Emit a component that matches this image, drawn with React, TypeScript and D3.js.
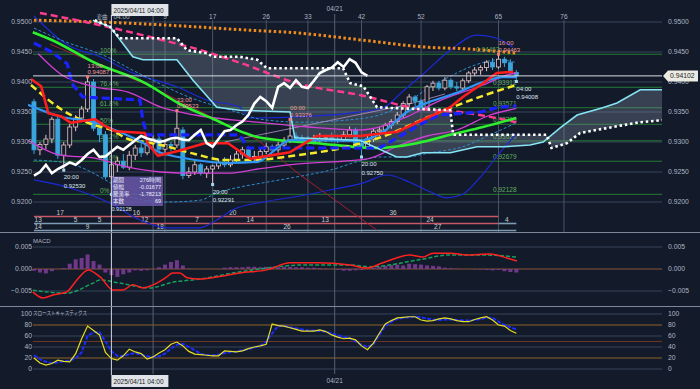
import React from "react";
import * as d3 from "d3";

type P = [number, number];

// ---------- candles (4h bars, index 0 = 2025/04/11 04:00) ----------
const FIRST_BAR = -13;
const OPEN = [
  0.9367, 0.9287, 0.9296, 0.9305, 0.9338, 0.9278, 0.9295, 0.9325, 0.9340, 0.9355, 0.9400, 0.9323, 0.9312,
  0.9242, 0.9262, 0.9268, 0.9258, 0.9278, 0.9290, 0.9282, 0.9298, 0.9305, 0.9288,
  0.9296, 0.9295, 0.9320, 0.9244, 0.9250, 0.9262, 0.9248, 0.9255, 0.9260, 0.9266,
  0.9262, 0.9270, 0.9280, 0.9287, 0.9275, 0.9276, 0.9284, 0.9292, 0.9287, 0.9295,
  0.9303, 0.9310, 0.9306, 0.9303, 0.9300, 0.9302, 0.9306, 0.9307, 0.9304, 0.9303,
  0.9312, 0.9320, 0.9298, 0.9292, 0.9305, 0.9318, 0.9320, 0.9328, 0.9334, 0.9345,
  0.9364, 0.9375, 0.9368, 0.9357, 0.9392, 0.9398, 0.9390, 0.9403, 0.9392, 0.9390,
  0.9402, 0.9415, 0.9420, 0.9424, 0.9433, 0.9425, 0.9438, 0.9432, 0.9416,
];
const HIGH = [
  0.9372, 0.9300, 0.9312, 0.9342, 0.9345, 0.9300, 0.9330, 0.9345, 0.9360, 0.94087, 0.9405, 0.9335, 0.9318,
  0.9270, 0.9275, 0.9280, 0.9285, 0.9295, 0.9300, 0.9305, 0.9312, 0.9310, 0.9302,
  0.9300, 0.93523, 0.9325, 0.9258, 0.9268, 0.9265, 0.9260, 0.9262, 0.9272, 0.9275,
  0.9278, 0.9285, 0.9292, 0.9290, 0.9285, 0.9290, 0.9298, 0.9296, 0.9300, 0.9308,
  0.93376, 0.9316, 0.9312, 0.9310, 0.9312, 0.9315, 0.9312, 0.9316, 0.9312, 0.9318,
  0.9326, 0.9324, 0.9305, 0.9310, 0.9322, 0.9325, 0.9332, 0.9338, 0.9350, 0.9368,
  0.9380, 0.9378, 0.9372, 0.9395, 0.9402, 0.9402, 0.9408, 0.9406, 0.9400, 0.9406,
  0.9418, 0.9425, 0.9428, 0.9436, 0.9440, 0.94463, 0.9442, 0.9438, 0.9420,
];
const LOW = [
  0.9280, 0.9278, 0.9288, 0.9298, 0.9272, 0.92530, 0.9290, 0.9318, 0.9335, 0.9350, 0.9318, 0.9300, 0.9238,
  0.92128, 0.9250, 0.9255, 0.9253, 0.9270, 0.9275, 0.9278, 0.9290, 0.9280, 0.9278,
  0.9285, 0.9290, 0.9238, 0.9240, 0.9245, 0.9244, 0.9240, 0.92291, 0.9255, 0.9258,
  0.9258, 0.9265, 0.9272, 0.9270, 0.9268, 0.9272, 0.9280, 0.9282, 0.9282, 0.9290,
  0.9298, 0.9300, 0.9298, 0.9296, 0.9296, 0.9298, 0.9300, 0.9300, 0.9298, 0.9300,
  0.9308, 0.9294, 0.92750, 0.9288, 0.9300, 0.9310, 0.9315, 0.9322, 0.9330, 0.9340,
  0.9358, 0.9360, 0.9352, 0.9355, 0.9385, 0.9386, 0.9386, 0.9388, 0.9385, 0.9386,
  0.9398, 0.9410, 0.9412, 0.9418, 0.9420, 0.9422, 0.9425, 0.9412, 0.94008,
];
const CLOSE = [
  0.9287, 0.9296, 0.9305, 0.9338, 0.9278, 0.9295, 0.9325, 0.9340, 0.9355, 0.9400, 0.9323, 0.9312, 0.9242,
  0.9262, 0.9268, 0.9258, 0.9278, 0.9290, 0.9282, 0.9298, 0.9305, 0.9288, 0.9296,
  0.9295, 0.9323, 0.9244, 0.9250, 0.9262, 0.9248, 0.9255, 0.9260, 0.9266, 0.9262,
  0.9270, 0.9280, 0.9287, 0.9275, 0.9276, 0.9284, 0.9292, 0.9287, 0.9295, 0.9303,
  0.9310, 0.9306, 0.9303, 0.9300, 0.9302, 0.9306, 0.9307, 0.9304, 0.9303, 0.9312,
  0.9320, 0.9298, 0.9292, 0.9305, 0.9318, 0.9320, 0.9328, 0.9334, 0.9345, 0.9364,
  0.9375, 0.9368, 0.9357, 0.9392, 0.9398, 0.9390, 0.9403, 0.9392, 0.9390, 0.9402,
  0.9415, 0.9420, 0.9424, 0.9433, 0.9425, 0.9438, 0.9432, 0.9416, 0.94102,
];
const CHIKOU_SHIFT = 25;
const LAST_PRICE = 0.94102;

// ---------- axes ----------
const PRICE_TICKS = [0.92, 0.925, 0.93, 0.935, 0.94, 0.945, 0.95];
const MACD_TICKS = [-0.005, 0, 0.005];
const STOCH_TICKS = [0, 20, 40, 60, 80, 100];
const STOCH_WARM = [20, 80];
const COUNT_MARKS = [9, 17, 26, 33, 42, 52, 65, 76];
const WEEK_SEPS = [7, 37.5];
const WEEK_LABELS = ["", "04/21"];
const CROSS_BAR = 0;
const CROSS_LABEL = "2025/04/11 04:00";

// ---------- fibonacci ----------
const FIB_PCT = ["100%", "76.4%", "61.8%", "50%", "38.2%", "23.6%", "0%"];
const FIB_VAL = [0.94463, 0.93912, 0.93571, 0.932955, 0.9302, 0.92679, 0.92128];

// ---------- overlay lines: [bar, price] ----------
const MA_ORANGE: P[] = [[-13, 0.9503], [-2, 0.95], [9, 0.9495], [22, 0.9487], [31, 0.9482], [42, 0.947], [53, 0.9458], [60, 0.9455], [68, 0.9448]];
const MA_PINK: P[] = [[-12, 0.9515], [-2, 0.9495], [6.5, 0.9475], [15, 0.9453], [21.6, 0.9432], [31.5, 0.9397], [42.3, 0.9377], [50.6, 0.9357], [60, 0.9348], [68, 0.9333]];
const MA_GREEN: P[] = [[-13.2, 0.9483], [-10, 0.947], [-2.8, 0.9432], [5.7, 0.9398], [11.2, 0.9365], [17.4, 0.9337], [22.4, 0.9315], [24.6, 0.9308], [34.5, 0.9298], [44.6, 0.929], [51.3, 0.9298], [56.9, 0.9312], [62.4, 0.9325], [68, 0.934]];
const MA_YELLOW: P[] = [[-13.5, 0.9395], [-8.5, 0.9355], [-2.8, 0.9328], [0, 0.932], [2.8, 0.9305], [5.7, 0.93], [8.3, 0.9295], [14, 0.928], [19, 0.927], [23.3, 0.927], [30.5, 0.9277], [40, 0.9293], [45, 0.9307], [53.5, 0.9343], [62.4, 0.9377], [68, 0.9395]];
const TENKAN_RED: P[] = [[-13.5, 0.9405], [-11.8, 0.9393], [-10.6, 0.9348], [-8.5, 0.9343], [-6.8, 0.9332], [-2.8, 0.9338], [-1.1, 0.9327], [0.6, 0.9318], [5.6, 0.9315], [6.1, 0.9298], [7.8, 0.9277], [11.2, 0.9285], [15.7, 0.9298], [19.6, 0.9298], [23.3, 0.9272], [30, 0.9283], [34.5, 0.931], [41.7, 0.931], [48, 0.9317], [52.3, 0.9337], [56.9, 0.9358], [59, 0.9375], [62.4, 0.9398], [64.7, 0.9415], [67.5, 0.9417]];
const MA_SKY: P[] = [[-14, 0.9362], [-8.5, 0.9342], [-2.8, 0.9333], [0.6, 0.932], [4.5, 0.9303], [8.3, 0.9282], [11.2, 0.9275], [14, 0.927], [19.6, 0.9265], [24.6, 0.9267], [27.5, 0.9287], [30, 0.9303], [41.7, 0.9302], [45.6, 0.9317], [49.6, 0.935], [53.5, 0.9367], [58, 0.9382], [62.4, 0.94], [65.7, 0.9408], [68, 0.9408]];
const KIJUN_BLUE: P[] = [[-13, 0.9465], [-10, 0.945], [-7.4, 0.943], [-6.6, 0.9397], [-4.8, 0.9375], [4.8, 0.937], [5.3, 0.9335], [6, 0.9312], [21.5, 0.9312], [23, 0.929], [45, 0.929], [48.5, 0.931], [52, 0.933], [55, 0.9345], [62, 0.935], [65, 0.9358], [68, 0.936]];
const BB1_UP: P[] = [[-12.3, 0.9447], [-8.5, 0.9413], [-2.8, 0.9392], [2.8, 0.9383], [8.3, 0.9358], [14, 0.9345], [24.6, 0.9333], [33, 0.9325], [41.7, 0.932], [49.6, 0.9342], [54.7, 0.9367], [62.4, 0.9395], [66.9, 0.9413], [68, 0.9415]];
const BB1_DN: P[] = [[-14, 0.9303], [-8.5, 0.9278], [-2.8, 0.9273], [2.8, 0.9258], [8.3, 0.925], [14, 0.9248], [19.6, 0.9248], [24.6, 0.9255], [31, 0.9263], [43, 0.9272], [48.5, 0.9295], [53, 0.931], [58, 0.932], [63.6, 0.9345], [68, 0.9356]];
const BB2_UP: P[] = [[-13, 0.949], [-8.5, 0.947], [-1, 0.9443], [4.5, 0.9415], [13, 0.9375], [21, 0.935], [25, 0.9338], [32, 0.9333], [40, 0.9337], [45, 0.9345], [49, 0.9362], [53, 0.9388], [57, 0.941], [61, 0.9428], [65, 0.9437], [68, 0.9432]];
const BB2_DN: P[] = [[-13, 0.927], [-7.5, 0.9265], [-0.2, 0.9232], [3.6, 0.9207], [9.3, 0.92], [14.9, 0.9203], [17.7, 0.9215], [21.6, 0.9225], [25.5, 0.9232], [31.2, 0.9242], [36.7, 0.9253], [42.3, 0.927], [45.1, 0.9275], [49.6, 0.9275], [53.5, 0.9282], [59, 0.9292], [63.6, 0.9312], [68, 0.9332]];
const BB3_UP: P[] = [[-13, 0.951], [-7.4, 0.9462], [-1.9, 0.9442], [3.6, 0.9415], [11, 0.9392], [16, 0.937], [21.6, 0.9358], [23.3, 0.934], [31.7, 0.9342], [40, 0.9348], [45.6, 0.9357], [49, 0.9385], [52.3, 0.9413], [56.9, 0.9453], [61.4, 0.9478], [64.7, 0.9473], [67.4, 0.9458]];
const BB3_DN: P[] = [[-13, 0.9237], [-7.5, 0.9225], [-0.2, 0.9198], [4.8, 0.917], [9.3, 0.9157], [14.9, 0.9157], [17.7, 0.917], [20.4, 0.9187], [25.5, 0.92], [31.7, 0.921], [36.7, 0.922], [42.3, 0.9232], [46.3, 0.9245], [50.1, 0.9233], [53.5, 0.9217], [56.4, 0.9207], [59, 0.9213], [62, 0.9242], [65.3, 0.9283], [68, 0.9313]];
const TREND_RED: P[] = [[-10.3, 0.9463], [6.5, 0.9393], [24.6, 0.9303], [31.7, 0.9245], [44.6, 0.9153]];
const TREND_LAV: P[] = [[19, 0.93], [49.6, 0.9362], [56, 0.938]];
const SPAN_A: P[] = [[-3.1, 0.9503], [-0.2, 0.9492], [3.6, 0.9442], [5.3, 0.9437], [11, 0.9437], [13.7, 0.9403], [17.7, 0.9358], [21.6, 0.9353], [30, 0.935], [30.8, 0.9307], [41.7, 0.9303], [47.9, 0.9275], [49.6, 0.9275], [52.3, 0.9282], [56.9, 0.9282], [61.4, 0.9292], [65.8, 0.9292], [70.3, 0.9295], [72.5, 0.93], [75.3, 0.9323], [78.2, 0.9345], [82.5, 0.9357], [84.9, 0.9365], [88.8, 0.9387], [93, 0.9387]];
const SPAN_B: P[] = [[-2.8, 0.9503], [-0.2, 0.9492], [1.4, 0.9473], [11, 0.9473], [12.7, 0.9453], [16, 0.9448], [17.1, 0.9442], [21.6, 0.9442], [24.5, 0.9437], [26.1, 0.9423], [38.9, 0.9423], [40.1, 0.9398], [42.3, 0.9393], [44.6, 0.9358], [46.3, 0.9357], [56.9, 0.9353], [57.4, 0.9312], [73.1, 0.9312], [73.9, 0.929], [76.5, 0.9298], [78.7, 0.9315], [84.2, 0.9325], [88.8, 0.9333], [93.3, 0.9337]];

// ---------- high / low markers ----------
const MARK_BARS = [-8, -4, 0, 11, 17, 30, 42, 65, 68];
const MARK_TIMES = ["20:00", "13:00", "", "23:00", "20:00", "00:00", "20:00", "16:00", "04:00"];
const MARK_KIND = ["L", "H", "L", "H", "L", "H", "L", "H", "L"];

// ---------- measurement box ----------
const INFO_LABELS = ["期間", "値幅", "騰落率", "本数"];
const INFO_VALUES = ["276時間", "-0.01677", "-1.78213", "69"];

// ---------- count rows ----------
const ROW1: [string, number][] = [["17", -8.6], ["16", 4.2], ["20", 20.4], ["36", 47.3]];
const ROW2: [string, number][] = [["13", -12.3], ["5", -6], ["5", -2], ["12", 5.6], ["7", 14.4], ["14", 23.3], ["13", 35.9], ["24", 53.5], ["4", 66.4]];
const ROW3: [string, number][] = [["14", -12.3], ["9", -4], ["18", 8.2], ["26", 29.5], ["27", 54.8]];

// ---------- MACD ----------
const MACD_LINE: P[] = [[-13.2, -0.0052], [-11.5, -0.0066], [-9.8, -0.0059], [-7.5, -0.0052], [-5.8, -0.0025], [-3.9, -0.0002], [-1.9, -0.0018], [0.3, -0.0048], [1.9, -0.0048], [3.6, -0.0036], [5.3, -0.0043], [7, -0.0036], [9.3, -0.0018], [10.3, -0.0009], [11.5, -0.0009], [12.7, -0.002], [14.9, -0.0023], [17.7, -0.0018], [21.6, -0.0009], [26.1, -0.0002], [30, 0.0014], [34.5, 0.0014], [40.1, 0.0009], [42.9, 0.0002], [45.6, 0.0014], [50.1, 0.0032], [52.3, 0.0027], [54, 0.0036], [56.9, 0.0036], [59.7, 0.0032], [63.6, 0.0034], [66.4, 0.0025], [68.1, 0.0018]];
const MACD_SIGNAL: P[] = [[-13.2, -0.0048], [-7.5, -0.0055], [-3.1, -0.0032], [-1.9, -0.0025], [1.4, -0.0032], [6.5, -0.0043], [10.3, -0.003], [14.9, -0.0023], [20.4, -0.0009], [26.1, 0.0002], [31.7, 0.0009], [40.1, 0.0009], [43.4, 0.0005], [51.3, 0.002], [56.9, 0.0032], [62.4, 0.0032], [68.1, 0.0027]];
const MACD_HIST = [
  -4, -8, -10, -5, 0, 2, 12, 22, 25, 33, 18, 10, -8,
  -14, -18, -12, -8, -3, -4, -3, 0, 4, 10,
  16, 20, 8, 1, 0, 0, 0, 0, 0, 3,
  4, 4, 4, 5, 5, 4, 5, 5, 4, 5,
  5, 4, 4, 3, 3, 2, 1, 0, -2, -4,
  -4, -3, -2, 0, 3, 5, 7, 9, 10, 8,
  12, 11, 10, 8, 7, 6, 3, 2, 1, 0,
  0, -1, -1, -2, -3, -2, -5, -7, -8,
];

// ---------- slow stochastics ----------
const STOCH_K = [
  20, 11, 7, 10, 16, 14, 13, 28, 55, 78,
  70, 62, 30, 19, 16, 24, 36, 31, 28, 18,
  22, 29, 35, 45, 49, 42, 32, 27, 26, 25,
  24, 24, 33, 32, 31, 33, 37, 40, 42, 45,
  82, 79, 78, 75, 72, 69, 69, 69, 71, 68,
  62, 58, 55, 56, 53, 42, 35, 47, 65, 82,
  88, 93, 94, 95, 95, 89, 87, 88, 91, 93,
  91, 88, 86, 86, 90, 93, 95, 89, 80, 78,
  70, 65,
];
const STOCH_D = [
  25, 18, 13, 11, 12, 14, 15, 20, 30, 60,
  67, 67, 50, 32, 24, 23, 27, 29, 26, 23,
  22, 23, 28, 37, 44, 46, 40, 34, 28, 25,
  25, 26, 29, 31, 32, 34, 36, 39, 42, 50,
  65, 78, 78, 76, 74, 72, 70, 70, 69, 68,
  65, 61, 58, 56, 50, 44, 40, 45, 62, 78,
  86, 91, 93, 94, 95, 94, 92, 90, 89, 90,
  90, 89, 88, 88, 89, 91, 93, 93, 86, 80,
  76, 72,
];

const BG = "#131a2a";
const AXIS_TXT = "#aeb6c2";
const GRID = "#38445a";
const FONT = "'Liberation Sans', Arial, sans-serif";
const CJK = "'Noto Sans CJK JP', 'Noto Sans', sans-serif";

export default function App() {
  const x = d3.scaleLinear().domain([0, 76]).range([111.4, 111.4 + 76 * 5.955]);
  const yP = d3.scaleLinear().domain([0.92, 0.95]).range([202, 22]);
  const yM = d3.scaleLinear().domain([-0.005, 0.005]).range([291, 247]);
  const yS = d3.scaleLinear().domain([0, 100]).range([369, 314]);

  const smooth = (pts: P[]) =>
    d3.line<P>().x((d) => x(d[0])).y((d) => yP(d[1])).curve(d3.curveMonotoneX)(pts) || "";
  const straight = (pts: P[]) =>
    d3.line<P>().x((d) => x(d[0])).y((d) => yP(d[1]))(pts) || "";

  const bars = OPEN.map((o, k) => ({ i: FIRST_BAR + k, o, h: HIGH[k], l: LOW[k], c: CLOSE[k] }));
  const chikou: P[] = bars.filter((b) => b.i - CHIKOU_SHIFT >= FIRST_BAR).map((b) => [b.i - CHIKOU_SHIFT, b.c]);

  const cloudPts = [...SPAN_A, ...SPAN_B.slice().reverse()].map((d) => `${x(d[0])},${yP(d[1])}`);
  const cloudPath = "M" + cloudPts.join("L") + "Z";

  const macdPath = (pts: P[]) =>
    d3.line<P>().x((d) => x(d[0])).y((d) => yM(d[1])).curve(d3.curveMonotoneX)(pts) || "";
  const stochPath = (vals: number[]) =>
    d3.line<number>().x((_, k) => x(FIRST_BAR + k)).y((v) => yS(v))(vals) || "";

  const xL = 33, xR = 662;
  const fmtP = d3.format(".4f");
  const fmt5 = d3.format(".5f");
  const fmtM = (v: number) => (v === 0 ? "0.000" : d3.format(".3f")(v));

  const overlay = (pts: P[], color: string, w: number, dash?: string, curve = true, op = 1) => (
    <path d={curve ? smooth(pts) : straight(pts)} fill="none" stroke={color} strokeWidth={w}
      strokeDasharray={dash} strokeOpacity={op} strokeLinejoin="round" />
  );

  const countRow = (row: [string, number][], y: number, color: string, from: number, to: number) => (
    <g>
      <line x1={x(from)} x2={x(to)} y1={y} y2={y} stroke={color} strokeWidth={1.6} />
      {row.map(([t, i], k) => (
        <text key={k} x={x(i)} y={y - 1.5} fontSize={6.5} fill="#c8ccd2" textAnchor="middle" fontFamily={FONT}>{t}</text>
      ))}
    </g>
  );

  return (
    <div style={{ position: "fixed", left: 0, top: 0, width: 700, height: 389 }}>
      <svg width={700} height={389} style={{ display: "block", background: BG }}>
        <defs>
          <clipPath id="mainClip"><rect x={28} y={0} width={634} height={232} /></clipPath>
          <clipPath id="subClip"><rect x={28} y={233} width={634} height={150} /></clipPath>
        </defs>
        <rect width={700} height={389} fill={BG} />

        {/* horizontal grids */}
        {PRICE_TICKS.map((t) => (
          <line key={t} x1={xL} x2={xR} y1={yP(t)} y2={yP(t)} stroke={GRID} strokeWidth={1} />
        ))}
        {MACD_TICKS.map((t) => (
          <line key={t} x1={xL} x2={xR} y1={yM(t)} y2={yM(t)} stroke={t === 0 ? "#8a5238" : GRID} strokeWidth={1} />
        ))}
        {STOCH_TICKS.map((t) => (
          <line key={t} x1={xL} x2={xR} y1={yS(t)} y2={yS(t)}
            stroke={STOCH_WARM.includes(t) ? "#8c6428" : GRID} strokeWidth={1} />
        ))}
        <line x1={xL} x2={xR} y1={yS(50)} y2={yS(50)} stroke="#6e3424" strokeWidth={1} />

        {/* vertical grids */}
        {COUNT_MARKS.map((m) => (
          <g key={m}>
            <line x1={x(m)} x2={x(m)} y1={20} y2={232} stroke="#4a5568" strokeWidth={1} />
            <text x={x(m)} y={19} fontSize={6.5} fill={AXIS_TXT} textAnchor="middle" fontFamily={FONT}>{m}</text>
          </g>
        ))}
        {WEEK_SEPS.map((m, k) => (
          <g key={m}>
            <line x1={x(m)} x2={x(m)} y1={14} y2={374} stroke="#566173" strokeWidth={1} />
            {WEEK_LABELS[k] && (
              <>
                <text x={x(m)} y={11} fontSize={6.5} fill={AXIS_TXT} textAnchor="middle" fontFamily={FONT}>{WEEK_LABELS[k]}</text>
                <text x={x(m)} y={383} fontSize={6.5} fill={AXIS_TXT} textAnchor="middle" fontFamily={FONT}>{WEEK_LABELS[k]}</text>
              </>
            )}
          </g>
        ))}
        <text x={x(CROSS_BAR) + 2} y={19} fontSize={6.5} fill={AXIS_TXT} fontFamily={FONT}>04:00</text>
        <text x={x(CROSS_BAR) - 15} y={19} fontSize={5.5} fill={AXIS_TXT} fontFamily={CJK}>変曲</text>

        <g clipPath="url(#mainClip)">
          {/* fibonacci */}
          {FIB_VAL.map((v, k) => (
            <g key={k}>
              <line x1={xL} x2={xR} y1={yP(v)} y2={yP(v)} stroke="#267a34" strokeWidth={1} />
              <text x={100} y={yP(v) - 1.5} fontSize={6.5} fill="#5fae5f" fontFamily={FONT}>{FIB_PCT[k]}</text>
              <text x={k === 0 ? 476 : 493} y={yP(v) - 2} fontSize={6.5} fill="#5fae5f" fontFamily={FONT}>{fmt5(v)}</text>
            </g>
          ))}

          {/* ichimoku cloud */}
          <path d={cloudPath} fill="#8a9aae" fillOpacity={0.3} />

          {/* count rows */}
          {countRow(ROW1, 216.5, "#c45a68", -13, 65)}
          {countRow(ROW2, 223.5, "#c45a68", 0, 65)}
          <line x1={x(-13)} x2={x(0)} y1={223.5} y2={223.5} stroke="#7d9cb4" strokeWidth={1.6} />
          <line x1={x(65)} x2={x(68)} y1={223.5} y2={223.5} stroke="#7d9cb4" strokeWidth={1.6} />
          {countRow(ROW3, 230.5, "#7d9cb4", -13, 68)}

          {/* bands & trend lines */}
          {overlay(BB3_UP, "#1c2ad6", 1.2)}
          {overlay(BB3_DN, "#1c2ad6", 1.2)}
          {overlay(BB2_UP, "#2d8fd0", 1, "3,2")}
          {overlay(BB2_DN, "#2d8fd0", 1, "3,2")}
          {overlay(TREND_RED, "#a0202e", 1, undefined, false)}
          {overlay(TREND_LAV, "#b792c8", 1, undefined, false, 0.8)}

          {/* candles */}
          {bars.map((b) => {
            const up = b.c >= b.o;
            const col = up ? "#e6c3c6" : "#3aa6dc";
            const top = yP(Math.max(b.o, b.c));
            const hgt = Math.max(1, Math.abs(yP(b.o) - yP(b.c)));
            return (
              <g key={b.i}>
                <line x1={x(b.i)} x2={x(b.i)} y1={yP(b.h)} y2={yP(b.l)} stroke={col} strokeWidth={1} />
                <rect x={x(b.i) - 2} y={top} width={4} height={hgt} fill={up ? BG : col} stroke={col} strokeWidth={0.8} />
              </g>
            );
          })}

          {overlay(BB1_UP, "#d23ed2", 1.3)}
          {overlay(BB1_DN, "#d23ed2", 1.3)}

          {/* moving averages */}
          {overlay(MA_ORANGE, "#f08c1e", 3, "2.5,2.5")}
          {overlay(MA_PINK, "#ff3c8c", 2.5, "7,4")}
          {overlay(MA_GREEN, "#2ef02e", 2.6)}
          {overlay(MA_YELLOW, "#f4ea2a", 2.5, "7,4")}
          {overlay(KIJUN_BLUE, "#1a22ff", 3.2, "8,4", false)}
          {overlay(MA_SKY, "#3096f6", 2.2)}
          {overlay(TENKAN_RED, "#ff1e1e", 2.6, undefined, false)}

          {/* ichimoku spans */}
          <path d={straight(SPAN_A)} fill="none" stroke="#86e4f4" strokeWidth={1.6} />
          <path d={straight(SPAN_B)} fill="none" stroke="#ffffff" strokeWidth={2.6} strokeDasharray="2.5,2.8" />

          {/* chikou */}
          <path d={straight(chikou)} fill="none" stroke="#ffffff" strokeWidth={2.6} strokeLinejoin="miter" />

          {/* last price line */}
          <line x1={xL} x2={xR} y1={yP(LAST_PRICE)} y2={yP(LAST_PRICE)} stroke="#d8dde4" strokeWidth={1} />

          {/* high / low markers */}
          {MARK_BARS.map((bi, k) => {
            const b = bars[bi - FIRST_BAR];
            const hi = MARK_KIND[k] === "H";
            const v = hi ? b.h : b.l;
            const yy = yP(v);
            const col = hi ? "#f09a9a" : "#dfe6ee";
            const solo = !MARK_TIMES[k];
            return (
              <g key={k}>
                <rect x={x(bi) - 1.5} y={yy - 1.5} width={3} height={3} fill={hi ? "#f07a7a" : "#a8d8f0"} />
                {!solo && (
                  <text x={x(bi)} y={hi ? yy - 9 : yy + 9} fontSize={6} fill={col} fontFamily={FONT}>{MARK_TIMES[k]}</text>
                )}
                <text x={x(bi)} y={hi ? yy - 2.5 : yy + (solo ? 16.8 : 17.5)} fontSize={solo ? 5.6 : 6} fill={col} fontFamily={FONT}>{fmt5(v)}</text>
              </g>
            );
          })}

          {/* measurement box */}
          <rect x={111} y={176.5} width={52} height={29.5} fill="#6a58aa" fillOpacity={0.85} />
          {INFO_LABELS.map((t, k) => (
            <g key={k}>
              <text x={113} y={182.3 + k * 7} fontSize={5.5} fill="#eeeeff" fontFamily={CJK}>{t}</text>
              <text x={161} y={182.3 + k * 7} fontSize={5.5} fill="#eeeeff" textAnchor="end" fontFamily={FONT}>{INFO_VALUES[k]}</text>
            </g>
          ))}
        </g>

        {/* MACD panel */}
        <g clipPath="url(#subClip)">
          {MACD_HIST.map((h, k) => {
            const v = h / 10000;
            return (
              <rect key={k} x={x(FIRST_BAR + k) - 2} y={Math.min(yM(v), yM(0))} width={4}
                height={Math.abs(yM(v) - yM(0))} fill="#7a3c92" fillOpacity={0.9} />
            );
          })}
          <path d={macdPath(MACD_SIGNAL)} fill="none" stroke="#17a05e" strokeWidth={1.5} strokeDasharray="4,2" />
          <path d={macdPath(MACD_LINE)} fill="none" stroke="#ff2020" strokeWidth={1.5} />

          {/* stochastics */}
          <path d={stochPath(STOCH_D)} fill="none" stroke="#1a2cff" strokeWidth={2} strokeDasharray="4,1.5" />
          <path d={stochPath(STOCH_K)} fill="none" stroke="#e6de22" strokeWidth={1.2} />
        </g>

        {/* crosshair */}
        <line x1={x(CROSS_BAR)} x2={x(CROSS_BAR)} y1={15} y2={375} stroke="#cfd6de" strokeWidth={1} />
        <rect x={x(CROSS_BAR)} y={4} width={57} height={12} fill="#e0e4e8" />
        <text x={x(CROSS_BAR) + 2} y={12.8} fontSize={6.5} fill="#222" fontFamily={FONT}>{CROSS_LABEL}</text>
        <rect x={x(CROSS_BAR)} y={375} width={57} height={12} fill="#e0e4e8" />
        <text x={x(CROSS_BAR) + 2} y={383.8} fontSize={6.5} fill="#222" fontFamily={FONT}>{CROSS_LABEL}</text>

        {/* panel separators */}
        <line x1={0} x2={700} y1={232.5} y2={232.5} stroke="#7c879a" strokeWidth={1} />
        <line x1={0} x2={700} y1={306.5} y2={306.5} stroke="#7c879a" strokeWidth={1} />

        {/* axis labels */}
        {PRICE_TICKS.map((t) => (
          <g key={t}>
            <text x={32} y={yP(t) + 2.3} fontSize={6.8} fill={AXIS_TXT} textAnchor="end" fontFamily={FONT}>{fmtP(t)}</text>
            <text x={668} y={yP(t) + 2.3} fontSize={6.8} fill={AXIS_TXT} fontFamily={FONT}>{fmtP(t)}</text>
          </g>
        ))}
        {MACD_TICKS.map((t) => (
          <g key={t}>
            <text x={32} y={yM(t) + 2.3} fontSize={6.8} fill={AXIS_TXT} textAnchor="end" fontFamily={FONT}>{fmtM(t)}</text>
            <text x={668} y={yM(t) + 2.3} fontSize={6.8} fill={AXIS_TXT} fontFamily={FONT}>{fmtM(t)}</text>
          </g>
        ))}
        {STOCH_TICKS.map((t) => (
          <g key={t}>
            <text x={32} y={yS(t) + 2.3} fontSize={6.8} fill={AXIS_TXT} textAnchor="end" fontFamily={FONT}>{t}</text>
            <text x={668} y={yS(t) + 2.3} fontSize={6.8} fill={AXIS_TXT} fontFamily={FONT}>{t}</text>
          </g>
        ))}
        <text x={33} y={243} fontSize={6} fill={AXIS_TXT} fontFamily={FONT}>MACD</text>
        <text x={33} y={315} fontSize={5.5} fill={AXIS_TXT} fontFamily={CJK} textLength={54} lengthAdjust="spacingAndGlyphs">スローストキャスティクス</text>

        {/* last price tag */}
        <path d={`M663,${yP(LAST_PRICE)}L668,${yP(LAST_PRICE) - 5.5}L698,${yP(LAST_PRICE) - 5.5}L698,${yP(LAST_PRICE) + 5.5}L668,${yP(LAST_PRICE) + 5.5}Z`} fill="#ecebe2" />
        <text x={670} y={yP(LAST_PRICE) + 2.4} fontSize={6.8} fill="#222" fontFamily={FONT}>{fmt5(LAST_PRICE)}</text>
      </svg>
    </div>
  );
}
